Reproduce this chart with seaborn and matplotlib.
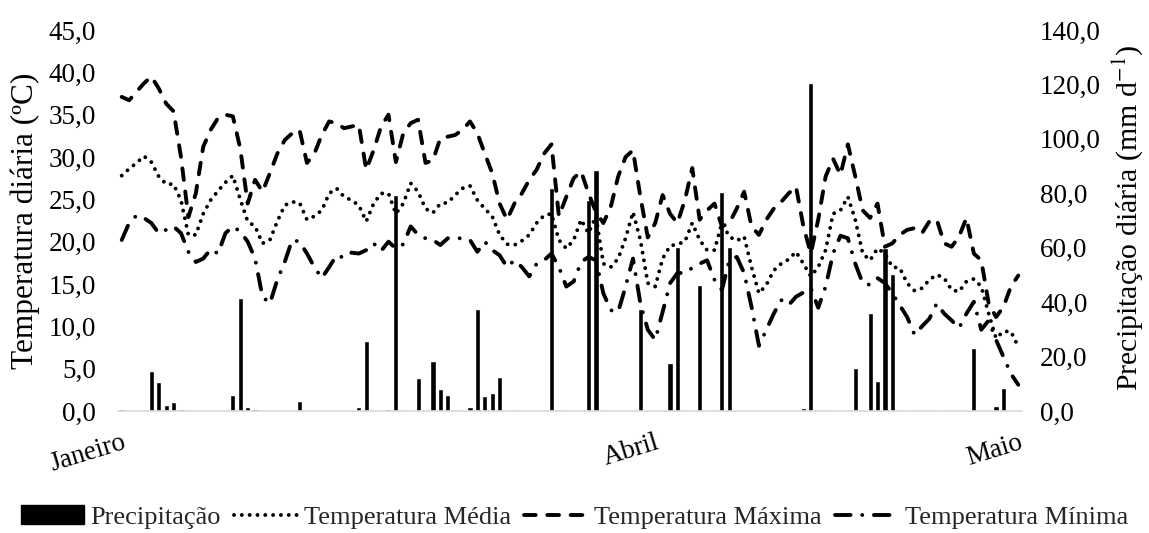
import numpy as np
import pandas as pd
import matplotlib
matplotlib.use("Agg")
import matplotlib.pyplot as plt
from matplotlib.ticker import FuncFormatter, MultipleLocator
from matplotlib.patches import Patch
from matplotlib.lines import Line2D
import seaborn as sns

# ---------------- data ----------------
month_labels = ["Janeiro", "Abril", "Maio"]
month_positions = [0, 72, 121]

temp_max = [37.1, 36.7, 37.7, 38.7, 39.5, 38.1, 36.3, 35.4, 30.0, 22.9,
            25.7, 31.2, 33.2, 34.6, 35.0, 34.8, 31.0, 24.5, 27.3, 25.9,
            28.1, 30.4, 32.0, 32.8, 33.2, 29.3, 30.4, 32.6, 34.2, 34.0,
            33.4, 33.6, 33.8, 28.5, 30.8, 33.6, 35.0, 29.4, 32.8, 34.0,
            34.4, 29.3, 29.6, 32.2, 32.4, 32.6, 33.2, 34.2, 32.8, 30.4,
            28.1, 24.5, 22.6, 24.5, 25.7, 27.3, 28.5, 30.4, 31.5, 23.0,
            25.3, 27.5, 28.3, 25.7, 23.5, 22.2, 24.1, 27.7, 30.0, 30.8,
            25.3, 20.5, 22.2, 25.5, 23.3, 22.2, 24.9, 28.7, 22.6, 23.7,
            24.5, 21.8, 22.2, 23.9, 25.9, 21.8, 20.8, 22.6, 23.9, 24.7,
            25.7, 26.5, 21.8, 18.6, 22.6, 27.7, 29.8, 27.9, 31.5, 27.7,
            23.7, 22.8, 24.5, 19.4, 19.8, 20.8, 21.4, 21.6, 21.0, 22.4,
            22.6, 19.8, 19.4, 20.6, 22.8, 18.6, 17.8, 12.7, 11.1, 12.3,
            14.7, 16.0]

temp_med = [27.8, 28.6, 29.3, 30.1, 29.4, 27.7, 26.8, 26.8, 24.9, 20.8,
            20.8, 23.3, 24.9, 26.0, 27.0, 27.8, 25.0, 22.4, 21.8, 19.8,
            20.2, 22.4, 24.3, 24.7, 24.6, 22.6, 23.0, 23.7, 25.7, 26.3,
            25.3, 24.9, 24.3, 22.4, 24.5, 25.7, 25.7, 23.3, 24.5, 26.9,
            25.9, 23.9, 23.4, 24.5, 24.6, 25.5, 26.3, 26.6, 24.9, 23.9,
            23.0, 20.8, 19.7, 19.6, 20.1, 20.8, 22.2, 23.1, 23.3, 20.2,
            19.2, 20.2, 22.6, 21.0, 23.0, 17.4, 17.0, 18.0, 20.4, 23.5,
            20.2, 15.1, 14.7, 18.0, 19.5, 19.7, 20.0, 22.2, 20.2, 19.0,
            19.0, 22.2, 20.6, 20.1, 20.6, 17.0, 13.9, 14.9, 16.6, 17.4,
            17.9, 18.8, 17.4, 15.9, 17.0, 19.0, 23.3, 23.7, 25.3, 22.6,
            18.6, 17.8, 19.2, 18.6, 17.0, 16.9, 15.1, 14.2, 14.5, 15.5,
            16.1, 15.7, 14.3, 14.1, 15.3, 15.6, 14.7, 11.5, 8.6, 9.4,
            9.4, 7.6]

temp_min = [20.2, 22.2, 23.1, 22.8, 22.2, 21.0, 21.4, 21.8, 21.0, 18.8,
            17.6, 18.0, 19.1, 18.6, 21.0, 21.8, 21.2, 20.0, 18.0, 13.5,
            12.7, 15.5, 17.6, 20.2, 20.0, 18.6, 17.0, 15.7, 17.0, 18.4,
            18.1, 18.7, 18.6, 19.0, 19.8, 18.9, 20.0, 19.2, 19.7, 21.8,
            20.8, 20.4, 20.2, 19.6, 20.4, 20.4, 20.4, 20.2, 18.8, 20.0,
            19.0, 18.4, 17.0, 17.8, 17.0, 15.9, 17.4, 17.8, 18.6, 17.0,
            14.7, 15.3, 17.6, 18.2, 17.8, 13.9, 11.9, 11.7, 14.7, 18.0,
            12.7, 9.6, 8.4, 11.7, 15.1, 16.3, 16.3, 16.9, 17.4, 17.8,
            15.5, 14.3, 17.8, 18.2, 16.3, 12.3, 7.7, 9.6, 11.5, 13.1,
            12.5, 13.5, 14.0, 14.5, 12.2, 14.7, 18.6, 20.7, 20.4, 17.4,
            15.1, 14.9, 15.7, 15.1, 13.9, 12.5, 11.1, 9.0, 10.0, 10.9,
            12.7, 11.5, 10.7, 9.8, 11.5, 12.9, 9.6, 10.7, 8.4, 6.4,
            4.4, 3.1]

precip = [0.6, 0.0, 0.0, 0.0, 14.7, 10.5, 2.2, 3.4, 0.6, 0.0,
          0.0, 0.0, 0.0, 0.0, 0.0, 5.9, 41.4, 1.6, 0.6, 0.0,
          0.0, 0.0, 0.0, 0.0, 3.7, 0.0, 0.0, 0.0, 0.0, 0.0,
          0.0, 0.0, 1.6, 25.8, 0.0, 0.0, 0.6, 79.4, 0.4, 0.0,
          12.2, 0.0, 18.4, 8.1, 5.9, 0.4, 0.0, 1.6, 37.5, 5.6,
          6.5, 12.6, 0.0, 0.4, 0.0, 0.0, 0.0, 0.0, 81.8, 0.5,
          0.0, 0.0, 0.0, 77.5, 88.6, 0.4, 0.0, 0.0, 0.0, 0.0,
          37.4, 0.0, 0.0, 0.0, 17.5, 60.4, 0.4, 0.0, 46.3, 0.0,
          0.4, 80.4, 60.4, 0.0, 0.0, 0.0, 0.0, 0.0, 0.0, 0.0,
          0.0, 0.0, 1.0, 120.7, 0.0, 0.5, 0.0, 0.0, 0.0, 15.9,
          0.0, 35.9, 11.1, 59.8, 50.3, 0.4, 0.0, 0.0, 0.3, 0.3,
          0.0, 0.0, 0.3, 0.3, 0.3, 23.0, 0.3, 0.0, 2.0, 8.3,
          0.0, 0.0]

day_idx = list(range(len(precip)))

df = pd.DataFrame({"dia": day_idx, "prec": precip, "tmax": temp_max,
                   "tmed": temp_med, "tmin": temp_min})

# ---------------- style ----------------
sns.set_theme(style="white")
plt.rcParams["font.family"] = ["Liberation Serif", "DejaVu Serif"]
plt.rcParams["mathtext.fontset"] = "stix"

W, H = 1149, 533
fig = plt.figure(figsize=(W / 100, H / 100), dpi=100)
left, right, bottom, top = 118, 1022, 411, 30
ax_p = fig.add_axes([left / W, 1 - bottom / H, (right - left) / W, (bottom - top) / H])
ax_t = ax_p.twinx()

# precipitation bars (right axis)
sns.barplot(data=df, x="dia", y="prec", color="black", saturation=1,
            width=0.7, ax=ax_p, zorder=1)
ax_p.set_ylim(0, 140)
ax_p.yaxis.set_major_locator(MultipleLocator(20))
ax_p.yaxis.tick_right()

# temperature lines (left axis)
LW = 2.8
sns.lineplot(data=df, x="dia", y="tmed", color="black", lw=LW, ax=ax_t,
             errorbar=None)
sns.lineplot(data=df, x="dia", y="tmax", color="black", lw=LW, ax=ax_t,
             errorbar=None)
sns.lineplot(data=df, x="dia", y="tmin", color="black", lw=LW, ax=ax_t,
             errorbar=None)
l_med, l_max, l_min = ax_t.lines[-3:]
dot_pat = (0.01, 2.0)
max_pat = (3.0, 3.0)
min_pat = (4.0, 3.0, 0.01, 3.0)
for ln, pat in ((l_med, dot_pat), (l_max, max_pat), (l_min, min_pat)):
    ln.set_dashes(pat)
    ln.set_dash_capstyle("round")
    ln.set_solid_capstyle("round")

ax_t.set_ylim(0, 45)
ax_t.yaxis.set_major_locator(MultipleLocator(5))
ax_t.yaxis.tick_left()
ax_p.set_xlim(-0.5, len(precip) - 0.5)

fmt = FuncFormatter(lambda v, p: f"{v:.1f}".replace(".", ","))
ax_t.yaxis.set_major_formatter(fmt)
ax_p.yaxis.set_major_formatter(fmt)

TICK_FS = 19.5
ax_t.tick_params(axis="y", labelsize=TICK_FS, length=0, pad=16, colors="black")
ax_p.tick_params(axis="y", labelsize=TICK_FS, length=0, pad=13, colors="black",
                 left=False, labelleft=False, right=True, labelright=True)

ax_t.set_ylabel("")
ax_p.set_ylabel("")
ax_p.set_xlabel("")
ax_t.set_xlabel("")

fig.text(25 / W, 1 - 221 / H, "Temperatura diária (ºC)", rotation=90,
         ha="center", va="center", fontsize=22.5, color="black")
fig.text(1128 / W, 1 - 218 / H, "Precipitação diária (mm d$^{-1}$)",
         rotation=90, ha="center", va="center", fontsize=21.5, color="black")

ax_p.set_xticks(month_positions)
ax_p.set_xticklabels(month_labels, rotation=17, ha="right",
                     rotation_mode="anchor", fontsize=19.5)
ax_p.tick_params(axis="x", length=0, pad=14, colors="black")
ax_t.tick_params(axis="x", bottom=False, labelbottom=False)

for a in (ax_p, ax_t):
    for s in a.spines.values():
        s.set_visible(False)
ax_p.spines["bottom"].set_visible(True)
ax_p.spines["bottom"].set_color("#d9d9d9")
ax_p.spines["bottom"].set_linewidth(1.2)
ax_p.grid(False)
ax_t.grid(False)

# legend
handles = [
    Patch(facecolor="black", edgecolor="black"),
    Line2D([0], [0], color="black", lw=LW, dashes=dot_pat, dash_capstyle="round"),
    Line2D([0], [0], color="black", lw=LW, dashes=max_pat, dash_capstyle="round"),
    Line2D([0], [0], color="black", lw=LW, dashes=min_pat, dash_capstyle="round"),
]
labels = ["Precipitação", "Temperatura Média", "Temperatura Máxima",
          "Temperatura Mínima"]
fig.legend(handles, labels, loc="center", bbox_to_anchor=(0.5, 0.03),
           ncol=4, frameon=False, fontsize=19, handlelength=2.4,
           handleheight=0.7, columnspacing=0.5, handletextpad=0.25,
           borderpad=0.1)

fig.savefig("out.png", dpi=100)
